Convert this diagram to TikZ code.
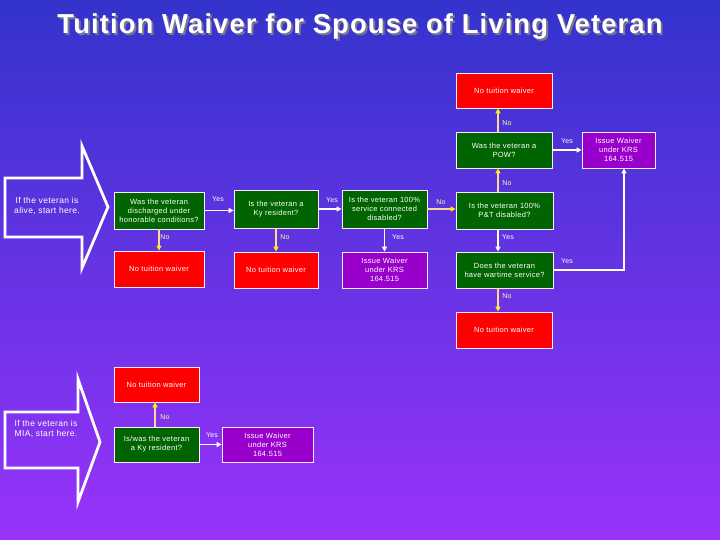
\documentclass[tikz,border=0pt]{standalone}
\usepackage{fontspec}
\setmainfont{Liberation Sans}
\newfontfamily\boxfont{Liberation Sans}[LetterSpace=4]
\usetikzlibrary{arrows.meta}
\definecolor{bgtop}{RGB}{51,51,204}
\definecolor{bgbot}{RGB}{153,51,250}
\definecolor{boxgreen}{RGB}{0,100,0}
\definecolor{boxred}{RGB}{255,0,0}
\definecolor{boxpurple}{RGB}{153,0,204}
\definecolor{noline}{RGB}{255,215,150}
\definecolor{notext}{RGB}{255,255,153}
\definecolor{borderc}{RGB}{255,235,255}
\definecolor{shadowc}{RGB}{120,120,140}
\newcommand{\titletext}{Tuition Waiver for Spouse of Living Veteran}
\begin{document}
\begin{tikzpicture}[x=1pt,y=-1pt,
  font=\boxfont\fontsize{7.5}{9}\selectfont,
  box/.style={draw=borderc, line width=0.8pt, text=white, align=center, inner sep=0pt},
  greenbox/.style={box, fill=boxgreen},
  redbox/.style={box, fill=boxred},
  purplebox/.style={box, fill=boxpurple},
  yesline/.style={draw=white, line width=1.6pt, -{Triangle[length=5pt,width=5pt]}},
  noarrow/.style={draw=noline, line width=1.6pt, -{Triangle[length=5pt,width=5pt,color=yellow]}},
  yeslbl/.style={text=white, font=\boxfont\fontsize{7}{8}\selectfont, inner sep=0pt},
  nolbl/.style={text=notext, font=\boxfont\fontsize{7}{8}\selectfont, inner sep=0pt},
  startarrow/.style={draw=white, line width=2.8pt, line join=miter},
  arrowtext/.style={text=white, align=center, inner sep=0pt, font=\boxfont\fontsize{8.5}{10}\selectfont}
]
\useasboundingbox (0,0) rectangle (720,540);
\shade[top color=bgtop, bottom color=bgbot] (0,0) rectangle (720,540);

% title (with drop shadow in one node)
\node[text=white, inner sep=0pt] (title) at (360,27)
  {\resizebox{605pt}{!}{\fontsize{28}{32}\selectfont\bfseries\rlap{\raisebox{-2pt}{\hspace{2pt}\color{shadowc}\titletext}}\titletext}};

% start arrows
\draw[startarrow] (5,178) -- (82,178) -- (82,146) -- (108,207) -- (82,268) -- (82,237) -- (5,237) -- cycle;
\node[arrowtext] (alivetext) at (47,206) {If the veteran is\\alive, start here.};
\draw[startarrow] (5,412) -- (78,412) -- (78,379) -- (100,442) -- (78,502) -- (78,468) -- (5,468) -- cycle;
\node[arrowtext] (miatext) at (46,429) {If the veteran is\\MIA, start here.};

% boxes
\node[redbox, minimum width=96pt, minimum height=35pt] (redtop) at (504,90.5) {No tuition waiver};
\node[greenbox, minimum width=96pt, minimum height=36pt] (pow) at (504,150) {Was the veteran a\\POW?};
\node[purplebox, minimum width=73pt, minimum height=36pt] (issuetop) at (618.5,150) {Issue Waiver\\under KRS\\164.515};
\node[greenbox, minimum width=90pt, minimum height=37pt] (disch) at (159,210.5) {Was the veteran\\discharged under\\honorable conditions?};
\node[redbox, minimum width=90pt, minimum height=36pt] (red1) at (159,269) {No tuition waiver};
\node[greenbox, minimum width=84pt, minimum height=38pt] (ky) at (276,209) {Is the veteran a\\Ky resident?};
\node[redbox, minimum width=84pt, minimum height=36pt] (red2) at (276,270) {No tuition waiver};
\node[greenbox, minimum width=85pt, minimum height=38pt] (svc) at (384.5,209) {Is the veteran 100\%\\service connected\\disabled?};
\node[purplebox, minimum width=85pt, minimum height=36pt] (issuemid) at (384.5,270) {Issue Waiver\\under KRS\\164.515};
\node[greenbox, minimum width=97pt, minimum height=37pt] (pt) at (504.5,210.5) {Is the veteran 100\%\\P\&T disabled?};
\node[greenbox, minimum width=97pt, minimum height=36pt] (war) at (504.5,270) {Does the veteran\\have wartime service?};
\node[redbox, minimum width=96pt, minimum height=36pt] (redbot) at (504,330) {No tuition waiver};
\node[redbox, minimum width=85pt, minimum height=35pt] (redmia) at (156.5,384.5) {No tuition waiver};
\node[greenbox, minimum width=85pt, minimum height=35pt] (iswas) at (156.5,444.5) {Is/was the veteran\\a Ky resident?};
\node[purplebox, minimum width=91pt, minimum height=35pt] (issuebot) at (267.5,444.5) {Issue Waiver\\under KRS\\164.515};

% connectors
\draw[yesline] (disch.east) -- (disch.east -| ky.west);
\draw[noarrow] (disch.south) -- (red1.north);
\draw[yesline] (ky.east) -- (ky.east -| svc.west);
\draw[noarrow] (ky.south) -- (red2.north);
\draw[yesline] (svc.south) -- (issuemid.north);
\draw[noarrow] (svc.east) -- (svc.east -| pt.west);
\draw[yesline] ([xshift=-6.5pt]pt.south) -- ([xshift=-6.5pt]war.north);
\draw[noarrow] ([xshift=-6.5pt]pt.north) -- ([xshift=-6pt]pow.south);
\draw[noarrow] ([xshift=-6pt]pow.north) -- ([xshift=-6pt]redtop.south);
\draw[yesline] (pow.east) -- (pow.east -| issuetop.west);
\draw[yesline] (war.east) -| ([xshift=5.5pt]issuetop.south);
\draw[noarrow] ([xshift=-6.5pt]war.south) -- ([xshift=-6pt]redbot.north);
\draw[noarrow] ([xshift=-1.5pt]iswas.north) -- ([xshift=-1.5pt]redmia.south);
\draw[yesline] (iswas.east) -- (iswas.east -| issuebot.west);

% labels
\node[yeslbl] (l1) at (218,199) {Yes};
\node[nolbl] (l2) at (165,237) {No};
\node[yeslbl] (l3) at (332,200) {Yes};
\node[nolbl] (l4) at (285,237) {No};
\node[yeslbl] (l5) at (398,237) {Yes};
\node[nolbl] (l6) at (441,202) {No};
\node[yeslbl] (l7) at (508,237) {Yes};
\node[nolbl] (l8) at (507,183) {No};
\node[nolbl] (l9) at (507,123) {No};
\node[yeslbl] (l10) at (567,141) {Yes};
\node[yeslbl] (l11) at (567,261) {Yes};
\node[nolbl] (l12) at (507,296) {No};
\node[nolbl] (l13) at (165,417) {No};
\node[yeslbl] (l14) at (212,435) {Yes};
\end{tikzpicture}
\end{document}
